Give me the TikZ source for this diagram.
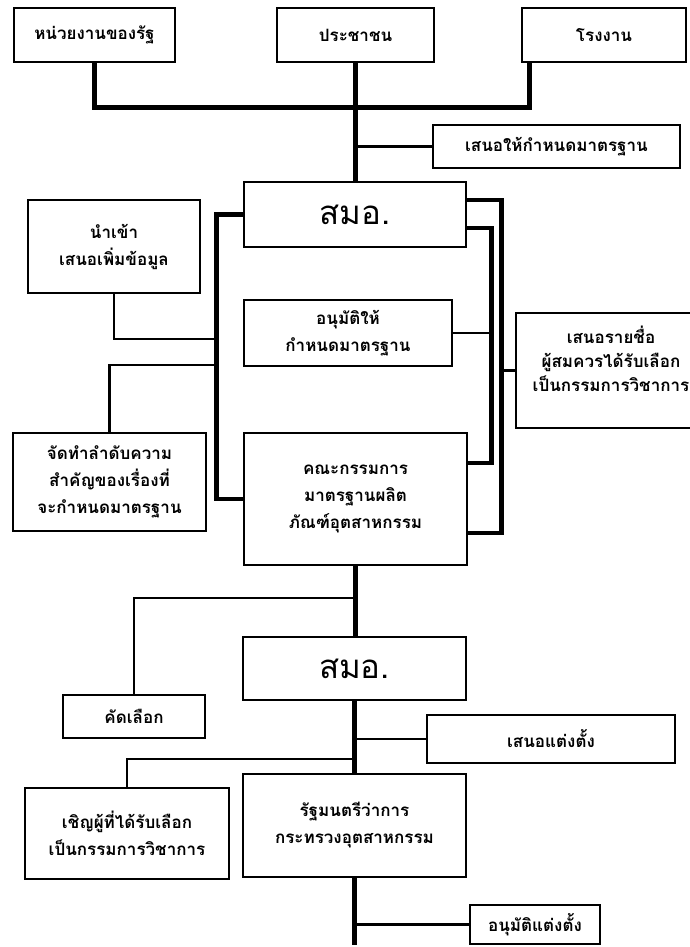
\documentclass[tikz,border=0pt]{standalone}
\usepackage{fontspec}
\newfontfamily\thaifont[Script=Thai]{Loma}
\begin{document}
\begin{tikzpicture}[x=1pt, y=-1pt,
  stage/.style={draw, line width=1.6pt, inner sep=0pt, align=center, font=\thaifont\bfseries\fontsize{17}{27}\selectfont},
  title/.style={stage, font=\thaifont\fontsize{33}{40}\selectfont},
  mainline/.style={line width=4.8pt},
  sideline/.style={line width=2.2pt}]

\useasboundingbox (0,0) rectangle (689,947);

\node[stage, minimum width=161, minimum height=54] (gov) at (94.5,35) {หน่วยงานของรัฐ};
\node[stage, minimum width=157, minimum height=54] (people) at (355.5,35) {ประชาชน};
\node[stage, minimum width=164, minimum height=54] (factory) at (604,35) {โรงงาน};
\node[stage, minimum width=247, minimum height=43] (propose) at (556.5,146.5) {เสนอให้กำหนดมาตรฐาน};
\node[title, minimum width=222, minimum height=65] (tisi1) at (355,214.5) {สมอ.};
\node[stage, minimum width=172, minimum height=93] (input) at (114,246.5) {นำเข้า\\เสนอเพิ่มข้อมูล};
\node[stage, minimum width=208, minimum height=66] (approve) at (348,333) {อนุมัติให้\\กำหนดมาตรฐาน};
\node[stage, minimum width=190, minimum height=115, font=\thaifont\bfseries\fontsize{17}{24}\selectfont] (nominate) at (611,370.5) {เสนอรายชื่อ\\ผู้สมควรได้รับเลือก\\\makebox[150pt]{เป็นกรรมการวิชาการ}\\\mbox{}};
\node[stage, minimum width=193, minimum height=98] (priority) at (109.5,482) {จัดทำลำดับความ\\สำคัญของเรื่องที่\\จะกำหนดมาตรฐาน};
\node[stage, minimum width=223, minimum height=132] (committee) at (355.5,499) {คณะกรรมการ\\มาตรฐานผลิต\\ภัณฑ์อุตสาหกรรม};
\node[title, minimum width=223, minimum height=63] (tisi2) at (354.5,668.5) {สมอ.};
\node[stage, minimum width=142, minimum height=43] (select) at (134,716.5) {คัดเลือก};
\node[stage, minimum width=248, minimum height=48] (appoint) at (551,739) {เสนอแต่งตั้ง};
\node[stage, minimum width=204, minimum height=91] (invite) at (127,833.5) {เชิญผู้ที่ได้รับเลือก\\เป็นกรรมการวิชาการ};
\node[stage, minimum width=223, minimum height=103] (minister) at (354.5,825.5) {รัฐมนตรีว่าการ\\กระทรวงอุตสาหกรรม};
\node[stage, minimum width=130, minimum height=39] (approved) at (535,924.5) {อนุมัติแต่งตั้ง};

\draw[mainline] (gov.south) -- ++(0,45) -| ([xshift=8pt]factory.south west);
\draw[mainline] (people.south) -- (people.south |- tisi1.north);
\draw[sideline] (propose.west) -- (propose.west -| people.south);

\draw[mainline] (tisi1.west) -- ++(-27,0) |- (committee.west);
\draw[sideline] (input.south) |- ++(103,45);
\draw[sideline] (priority.north) |- ++(107.5,-67);
\draw[mainline] ([yshift=14.5pt]tisi1.east) -- ++(35,0) |- ([yshift=-34pt]committee.east);
\draw[mainline] ([yshift=-13.5pt]tisi1.east) -- ++(25,0) |- ([yshift=36pt]committee.east);
\draw[sideline] (approve.east) -- ++(39,0);
\draw[sideline] (nominate.west) -- ++(-15,0);

\draw[mainline] (committee.south) -- (committee.south |- tisi2.north);
\draw[sideline] (select.north) |- ++(222,-96);
\draw[mainline] (tisi2.south) -- (tisi2.south |- minister.north);
\draw[sideline] (appoint.west) -- (appoint.west -| tisi2.south);
\draw[sideline] (invite.north) |- ++(229,-28);
\draw[mainline] (minister.south) -- ++(0,67);
\draw[sideline] (approved.west) -- (approved.west -| minister.south);

\end{tikzpicture}
\end{document}
